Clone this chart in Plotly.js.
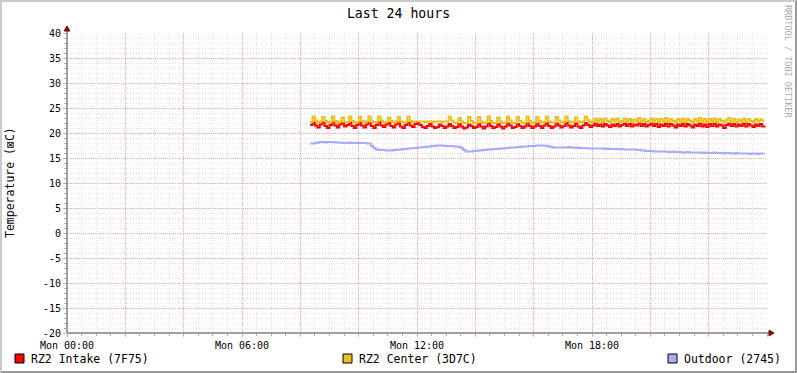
<!DOCTYPE html>
<html>
<head>
<meta charset="utf-8">
<script src="https://cdn.plot.ly/plotly-3.0.1.min.js"></script>
<style>
  html, body { margin: 0; padding: 0; background: #fff; }
  #wrap { position: relative; width: 797px; height: 373px; }
  #chart { width: 797px; height: 373px; }
  #frame { position: absolute; left: 0; top: 0; width: 797px; height: 373px; box-sizing: border-box;
    border-top: 2px solid #CBCBCB; border-left: 2px solid #CBCBCB;
    border-right: 2px solid #999999; border-bottom: 2px solid #999999; pointer-events: none; }
</style>
</head>
<body>
<div id="wrap"><div id="chart"></div><div id="frame"></div></div>
<script>
// ---- data (5-minute samples starting Mon 08:20, temperatures in °C) ----
const startHour = 8 + 20 / 60;
const stepHours = 5 / 60;

const intake = [
  21.6, 22.1, 21.5, 21.1, 21.7, 22.1, 21.4, 21.0,
  21.6, 22.2, 21.5, 21.1, 21.7, 22.0, 21.3, 21.6, 22.1, 21.4, 21.0, 21.6,
  22.1, 21.5, 21.1, 21.7, 22.1, 21.4, 21.0, 21.6, 22.2, 21.5, 21.2, 21.7,
  22.0, 21.4, 21.1, 21.7, 22.1, 21.3, 21.0, 21.6, 22.1, 21.5, 21.2, 21.8,
  22.0, 21.6, 21.2, 21.0, 21.4, 21.8, 21.3, 21.0, 21.2, 21.7, 21.4, 21.0,
  21.3, 21.8, 21.4, 21.0, 21.2, 21.8, 21.3, 20.9, 21.1, 21.7, 21.4, 21.0,
  21.2, 21.8, 21.3, 20.9, 21.3, 21.9, 21.4, 21.0, 21.2, 21.8, 21.3, 20.9,
  21.3, 21.9, 21.5, 21.0, 21.2, 21.8, 21.4, 21.0, 21.3, 21.9, 21.4, 21.0,
  21.3, 21.9, 21.4, 21.0, 21.5, 22.0, 21.4, 21.0, 21.3, 21.9, 21.5, 21.1,
  21.4, 22.0, 21.5, 21.1, 21.4, 21.9, 21.3, 21.0, 21.5, 22.0, 21.6, 21.2,
  21.5, 21.9, 21.4, 21.7, 21.3, 21.8, 21.5, 21.2, 21.7, 21.4, 21.8, 21.3,
  21.6, 21.9, 21.4, 21.8, 21.3, 21.7, 21.5, 21.9, 21.4, 21.8, 21.3, 21.6,
  21.9, 21.4, 21.8, 21.2, 21.7, 21.4, 21.9, 21.3, 21.8, 21.5, 21.1, 21.7,
  21.4, 21.9, 21.3, 21.8, 21.5, 21.1, 21.7, 21.4, 21.9, 21.3, 21.7, 21.2,
  21.8, 21.4, 21.9, 21.3, 21.7, 21.5, 21.0, 21.6, 21.9, 21.4, 21.8, 21.3,
  21.7, 21.4, 21.9, 21.3, 21.8, 21.5, 21.2, 21.7, 21.4, 21.8, 21.3, 21.1
];

const center = [
  22.2, 23.3, 22.5, 22.1, 22.3, 23.2, 22.4, 22.1,
  22.2, 23.3, 22.4, 22.1, 22.3, 23.1, 22.2, 22.2, 23.3, 22.4, 22.1, 22.2,
  23.2, 22.4, 22.1, 22.3, 23.3, 22.3, 22.1, 22.2, 23.3, 22.5, 22.1, 22.2,
  23.1, 22.4, 22.1, 22.3, 23.2, 22.3, 22.1, 22.2, 23.3, 22.4, 22.2, 22.3,
  22.3, 22.3, 22.3, 22.2, 22.3, 22.3, 22.2, 22.3, 22.3, 22.3, 22.2, 22.3,
  22.3, 23.3, 22.5, 22.1, 22.0, 23.0, 22.3, 22.0, 22.0, 23.2, 22.4, 22.0,
  22.0, 23.2, 22.3, 22.0, 22.1, 23.3, 22.4, 22.0, 22.0, 23.1, 22.3, 22.0,
  22.1, 23.3, 22.5, 22.0, 22.0, 23.2, 22.4, 22.0, 22.1, 23.3, 22.4, 22.0,
  22.1, 23.2, 22.4, 22.1, 22.2, 23.3, 22.3, 22.1, 22.1, 23.2, 22.5, 22.1,
  22.2, 23.3, 22.4, 22.1, 22.2, 23.1, 22.3, 22.1, 22.3, 23.3, 22.6, 22.1,
  22.3, 22.9, 22.3, 22.8, 22.2, 22.9, 22.4, 22.2, 22.8, 22.3, 22.9, 22.2,
  22.4, 22.9, 22.3, 22.8, 22.2, 22.7, 22.4, 23.0, 22.3, 22.8, 22.2, 22.5,
  22.9, 22.3, 22.8, 22.2, 22.8, 22.3, 23.0, 22.2, 22.8, 22.4, 22.1, 22.8,
  22.3, 22.9, 22.2, 22.8, 22.4, 22.1, 22.8, 22.3, 23.0, 22.2, 22.8, 22.2,
  22.8, 22.3, 22.9, 22.2, 22.8, 22.4, 22.1, 22.6, 23.0, 22.3, 22.8, 22.2,
  22.7, 22.3, 22.9, 22.2, 22.8, 22.4, 22.2, 22.8, 22.3, 22.7, 22.5, 22.5
];

const outdoor = [
  17.9, 17.9, 18.0, 18.1, 18.2, 18.2, 18.1, 18.2,
  18.2, 18.2, 18.1, 18.1, 18.1, 18.0, 18.0, 18.0, 18.1, 18.0, 18.0, 18.0,
  18.0, 18.0, 18.0, 17.9, 17.9, 17.4, 17.0, 16.7, 16.6, 16.6, 16.6, 16.5,
  16.5, 16.5, 16.6, 16.6, 16.7, 16.7, 16.8, 16.8, 16.9, 16.9, 17.0, 17.0,
  17.1, 17.1, 17.2, 17.2, 17.3, 17.3, 17.4, 17.4, 17.5, 17.5, 17.5, 17.4,
  17.4, 17.4, 17.4, 17.3, 17.3, 17.2, 17.0, 16.6, 16.3, 16.3, 16.3, 16.4,
  16.4, 16.5, 16.5, 16.6, 16.6, 16.7, 16.7, 16.8, 16.8, 16.8, 16.9, 16.9,
  17.0, 17.0, 17.1, 17.1, 17.1, 17.2, 17.2, 17.3, 17.3, 17.3, 17.4, 17.4,
  17.4, 17.5, 17.5, 17.5, 17.5, 17.4, 17.3, 17.2, 17.1, 17.1, 17.1, 17.1,
  17.1, 17.1, 17.2, 17.1, 17.1, 17.0, 17.1, 17.0, 17.0, 17.0, 16.9, 16.9,
  16.9, 16.9, 16.9, 16.9, 16.9, 16.8, 16.9, 16.8, 16.8, 16.8, 16.8, 16.7,
  16.8, 16.7, 16.7, 16.7, 16.7, 16.7, 16.6, 16.6, 16.5, 16.5, 16.4, 16.4,
  16.4, 16.3, 16.3, 16.3, 16.3, 16.3, 16.3, 16.2, 16.2, 16.3, 16.2, 16.2,
  16.2, 16.1, 16.1, 16.2, 16.1, 16.1, 16.1, 16.1, 16.1, 16.0, 16.1, 16.0,
  16.0, 16.0, 16.1, 16.0, 16.0, 16.0, 15.9, 16.0, 16.0, 15.9, 15.9, 16.0,
  15.9, 15.9, 15.9, 15.9, 15.9, 15.8, 15.9, 15.9, 15.8, 15.9, 15.9, 15.9
];

const seriesNames = ['RZ2 Intake (7F75)', 'RZ2 Center (3D7C)', 'Outdoor (2745)'];
const seriesColors = ['#FF0000', '#EAC11C', '#AAAAFF'];
const xTickVals = [0, 2, 4, 6, 8, 10, 12, 14, 16, 18, 20, 22, 24];
const xTickText = ['Mon 00:00', '', '', 'Mon 06:00', '', '', 'Mon 12:00', '', '', 'Mon 18:00', '', '', ''];
const yTickVals = [-20, -15, -10, -5, 0, 5, 10, 15, 20, 25, 30, 35, 40];
const yTickText = ['-20', '-15', '-10', '-5', '0', '5', '10', '15', '20', '25', '30', '35', '40'];

const hours = intake.map((_, i) => startHour + i * stepHours);

// ---- geometry helpers (plot area: x 67..767, y 33..333 px) ----
const L = 67, T = 33, W = 700, H = 300;
const px = x => (x - L) / W;
const py = y => (T + H - y) / H;

const FONT = 'DejaVu Sans Mono, monospace';
const traces = [intake, center, outdoor].map((vals, k) => ({
  x: hours, y: vals, type: 'scatter', mode: 'lines', name: seriesNames[k],
  line: { color: seriesColors[k], width: 2, shape: 'hv' }, hoverinfo: 'skip'
}));

const minorGrid = 'rgba(200,200,200,0.6)';
const majorGrid = 'rgba(228,150,150,0.75)';

const shapes = [
  // axis lines
  { type: 'line', xref: 'paper', yref: 'paper', x0: 0, x1: 0, y0: 0, y1: py(31), line: { color: '#404040', width: 1 } },
  { type: 'line', xref: 'paper', yref: 'paper', x0: 0, x1: px(769), y0: 0, y1: 0, line: { color: '#404040', width: 1 } },
  // arrows
  { type: 'path', xref: 'paper', yref: 'paper', fillcolor: '#7F1010', line: { color: '#7F1010', width: 1 },
    path: `M ${px(64)} ${py(31)} L ${px(70)} ${py(31)} L ${px(67)} ${py(26)} Z` },
  { type: 'path', xref: 'paper', yref: 'paper', fillcolor: '#7F1010', line: { color: '#7F1010', width: 1 },
    path: `M ${px(769)} ${py(330)} L ${px(769)} ${py(336)} L ${px(774)} ${py(333)} Z` }
];

const annotations = [
  { text: 'Temperature (⊠C)', xref: 'paper', yref: 'paper', x: px(10), y: 0.5, textangle: -90,
    showarrow: false, xanchor: 'center', yanchor: 'middle', font: { family: FONT, size: 11.5, color: '#000' } },
  { text: 'RRDTOOL / TOBI OETIKER', xref: 'paper', yref: 'paper', x: px(788), y: py(61), textangle: 90,
    showarrow: false, xanchor: 'center', yanchor: 'middle', font: { family: FONT, size: 8.5, color: '#AAAAAA' } }
];

const legendX = [15, 343, 668];
seriesNames.forEach((nm, k) => {
  shapes.push({ type: 'rect', xref: 'paper', yref: 'paper', x0: px(legendX[k]), x1: px(legendX[k] + 9),
    y0: py(354), y1: py(363), fillcolor: seriesColors[k], line: { color: '#000', width: 1 } });
  annotations.push({ text: nm, xref: 'paper', yref: 'paper', x: px(legendX[k] + 14), y: py(358.5),
    showarrow: false, xanchor: 'left', yanchor: 'middle', font: { family: FONT, size: 11.5, color: '#000' } });
});

const layout = {
  width: 797, height: 373,
  margin: { l: L, r: 797 - L - W, t: T, b: 373 - T - H, pad: 0 },
  paper_bgcolor: '#FFFFFF', plot_bgcolor: '#FFFFFF',
  showlegend: false, hovermode: false,
  title: { text: 'Last 24 hours', x: 0.5, xref: 'container', xanchor: 'center',
    y: 1 - 13.5 / 373, yref: 'container', yanchor: 'middle', font: { family: FONT, size: 13.2, color: '#000' } },
  xaxis: {
    range: [0, 24], fixedrange: true, showline: false, zeroline: false,
    tickmode: 'array', tickvals: xTickVals, ticktext: xTickText,
    ticks: 'outside', ticklen: 3, tickcolor: majorGrid, tickwidth: 1,
    showgrid: true, gridcolor: majorGrid, griddash: '1px,1px', gridwidth: 1,
    tickfont: { family: FONT, size: 10, color: '#000' },
    minor: { tickmode: 'linear', tick0: 0, dtick: 0.5, showgrid: true, gridcolor: minorGrid, griddash: '1px,2px',
      ticks: 'outside', ticklen: 2, tickcolor: '#AAAAAA' }
  },
  yaxis: {
    range: [-20, 40], fixedrange: true, showline: false, zeroline: false,
    tickmode: 'array', tickvals: yTickVals, ticktext: yTickText,
    ticks: 'outside', ticklen: 3, tickcolor: majorGrid, tickwidth: 1,
    showgrid: true, gridcolor: majorGrid, griddash: '1px,1px', gridwidth: 1,
    tickfont: { family: FONT, size: 10, color: '#000' },
    minor: { tickmode: 'linear', tick0: 0, dtick: 1, showgrid: true, gridcolor: minorGrid, griddash: '1px,2px',
      ticks: 'outside', ticklen: 2, tickcolor: '#AAAAAA' }
  },
  shapes: shapes,
  annotations: annotations
};

Plotly.newPlot('chart', traces, layout, { displayModeBar: false, staticPlot: true });
</script>
</body>
</html>
